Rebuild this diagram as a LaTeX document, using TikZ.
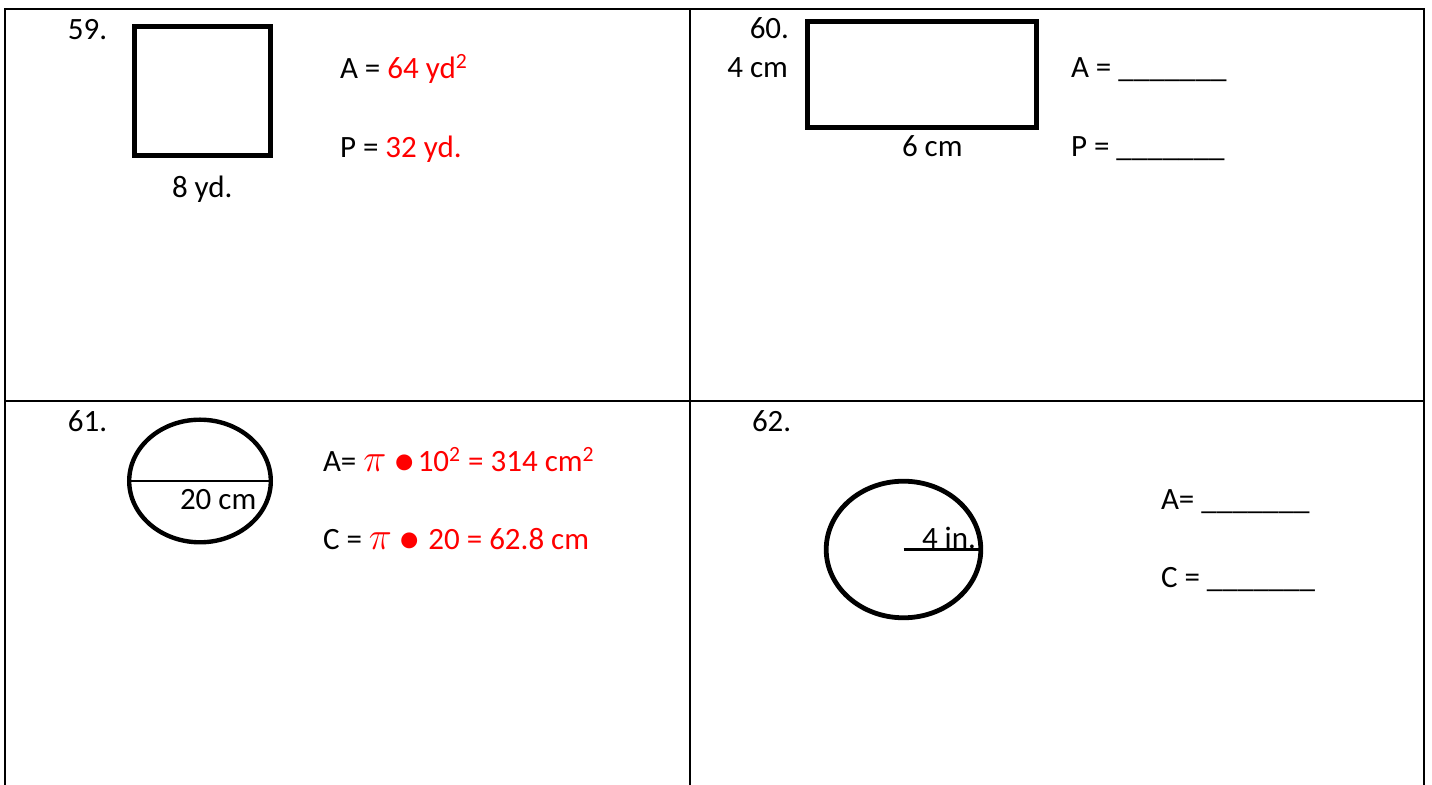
\documentclass[tikz,border=0pt]{standalone}
\usepackage{fontspec}
\setmainfont{Carlito}
\usepackage{xcolor}
\usetikzlibrary{shapes.geometric,positioning}

\newcommand{\bigpi}{\scalebox{1.35}{$\pi$}}
\newcommand{\dotop}{\raisebox{-0.12em}{\scalebox{1.45}{\textbullet}}}

\begin{document}
\begin{tikzpicture}[
    x=0.5pt, y=-0.5pt,
    every node/.style={font=\fontsize{15.5}{18}\selectfont, inner sep=0pt, outer sep=0pt},
    txt/.style={anchor=base west},
    txtr/.style={anchor=base east},
    boxshape/.style={draw, line width=2.5pt, rectangle},
    ovalshape/.style={draw, line width=2.2pt, ellipse},
    rule/.style={line width=1pt}
]
\useasboundingbox (0,0) rectangle (1432,785);

% grid of the four cells
\draw[rule] (5,785) -- (5,9) -- (1424,9) -- (1424,785);
\draw[rule] (690,9) -- (690,785);
\draw[rule] (5,401) -- (1424,401);

% 59
\node[txt] (n59) at (68,40) {59.};
\node[boxshape, minimum width=68pt, minimum height=64.5pt] (sq59) at (202.5,91) {};
\node[txt] (side59) at (172,198) {8 yd.};
\node[txt] (a59) at (340,79) {A = \textcolor{red}{64 yd\textsuperscript{2}}};
\node[txt] (p59) at (340,158) {P = \textcolor{red}{32 yd.}};

% 60
\node[txtr] (n60) at (789,39) {60.};
\node[boxshape, minimum width=114.5pt, minimum height=53pt] (rect60) at (922,74.5) {};
\node[txtr] (h60) at (788,78) {4 cm};
\node[txt] (w60) at (902,157) {6 cm};
\node[txt] (a60) at (1071,78) {A = \_\_\_\_\_\_\_};
\node[txt] (p60) at (1071,157) {P = \_\_\_\_\_\_\_};

% 61
\node[txt] (n61) at (68,432) {61.};
\node[ovalshape, minimum width=70.8pt, minimum height=61.3pt] (oval61) at (200,481) {};
\draw[line width=1pt] (oval61.west) -- (oval61.east);
\node[txt] (d61) at (180,510) {20 cm};
\node[txt] (a61) at (323,472) {A= \textcolor{red}{\bigpi\ \dotop\kern1pt10\textsuperscript{2} = 314 cm\textsuperscript{2}}};
\node[txt] (c61) at (323,550) {C = \textcolor{red}{\bigpi\ \dotop\ 20 = 62.8 cm}};

% 62
\node[txt] (n62) at (752,432) {62.};
\node[ovalshape, line width=2.4pt, minimum width=77.3pt, minimum height=68.3pt] (oval62) at (903.5,549.5) {};
\draw[line width=1.5pt] (oval62.center) -- (oval62.east);
\node[txt] (r62) at (922,549) {4 in.};
\node[txt] (a62) at (1161,510) {A= \_\_\_\_\_\_\_};
\node[txt] (c62) at (1161,588) {C = \_\_\_\_\_\_\_};
\end{tikzpicture}
\end{document}
